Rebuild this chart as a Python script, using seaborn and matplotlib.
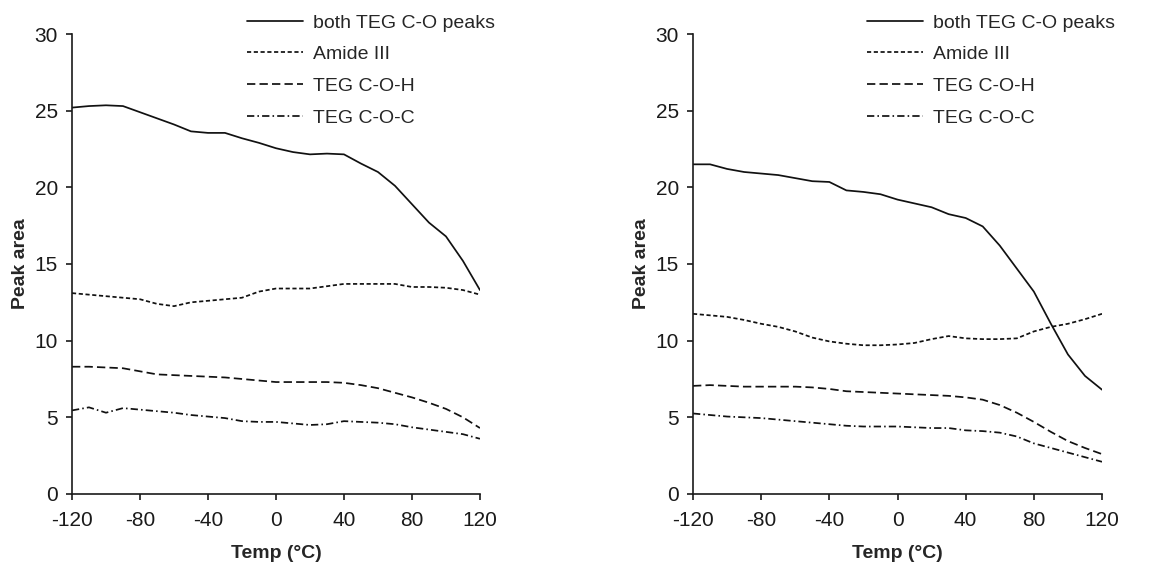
import pandas as pd
import matplotlib
matplotlib.use("Agg")
import matplotlib.pyplot as plt
import seaborn as sns

# Temperature grid (°C)
temps = list(range(-120, 121, 10))

series_names = ["both TEG C-O peaks", "Amide III", "TEG C-O-H", "TEG C-O-C"]

# left panel
left_both = [25.2, 25.3, 25.35, 25.3, 24.9, 24.5, 24.1, 23.65, 23.55, 23.55, 23.2, 22.9, 22.55,
             22.3, 22.15, 22.2, 22.15, 21.55, 21.0, 20.1, 18.9, 17.7, 16.8, 15.2, 13.3]
left_amide = [13.1, 13.0, 12.9, 12.8, 12.7, 12.4, 12.25, 12.5, 12.6, 12.7, 12.8, 13.2, 13.4,
              13.4, 13.4, 13.55, 13.7, 13.7, 13.7, 13.7, 13.5, 13.5, 13.45, 13.3, 13.0]
left_coh = [8.3, 8.3, 8.25, 8.2, 8.0, 7.8, 7.75, 7.7, 7.65, 7.6, 7.5, 7.4, 7.3,
            7.3, 7.3, 7.3, 7.25, 7.1, 6.9, 6.6, 6.3, 5.95, 5.55, 5.0, 4.3]
left_coc = [5.45, 5.65, 5.3, 5.6, 5.5, 5.4, 5.3, 5.15, 5.05, 4.95, 4.75, 4.7, 4.7,
            4.6, 4.5, 4.55, 4.75, 4.7, 4.65, 4.55, 4.35, 4.2, 4.05, 3.9, 3.6]

# right panel
right_both = [21.5, 21.5, 21.2, 21.0, 20.9, 20.8, 20.6, 20.4, 20.35, 19.8, 19.7, 19.55, 19.2,
              18.95, 18.7, 18.25, 18.0, 17.45, 16.2, 14.7, 13.2, 11.1, 9.1, 7.7, 6.8]
right_amide = [11.75, 11.65, 11.55, 11.35, 11.1, 10.9, 10.6, 10.2, 9.95, 9.8, 9.7, 9.7, 9.75,
               9.85, 10.1, 10.3, 10.15, 10.1, 10.1, 10.15, 10.6, 10.9, 11.1, 11.4, 11.75]
right_coh = [7.05, 7.1, 7.05, 7.0, 7.0, 7.0, 7.0, 6.95, 6.85, 6.7, 6.65, 6.6, 6.55,
             6.5, 6.45, 6.4, 6.3, 6.15, 5.8, 5.3, 4.7, 4.05, 3.45, 3.0, 2.6]
right_coc = [5.25, 5.15, 5.05, 5.0, 4.95, 4.85, 4.75, 4.65, 4.55, 4.45, 4.4, 4.4, 4.4,
             4.35, 4.3, 4.3, 4.15, 4.1, 4.0, 3.75, 3.3, 3.0, 2.7, 2.4, 2.1]

x_ticks = [-120, -80, -40, 0, 40, 80, 120]
y_ticks = [0, 5, 10, 15, 20, 25, 30]


def long_frame(cols):
    rows = []
    for name, vals in zip(series_names, cols):
        for t, v in zip(temps, vals):
            rows.append({"Temp": t, "Peak area": v, "series": name})
    return pd.DataFrame(rows)


sns.set_style("ticks")
plt.rcParams["font.family"] = ["Liberation Sans", "DejaVu Sans"]
plt.rcParams["axes.unicode_minus"] = False

dash_styles = {
    "both TEG C-O peaks": "",
    "Amide III": (2.4, 1.5),
    "TEG C-O-H": (4.8, 2.4),
    "TEG C-O-C": (4.2, 1.8, 0.9, 1.8),
}

fig = plt.figure(figsize=(11.61, 5.63), dpi=100)
ax_l = fig.add_axes([0.062, 0.1226, 0.3514, 0.817])
ax_r = fig.add_axes([0.5969, 0.1226, 0.3523, 0.817])

panels = [
    (ax_l, [left_both, left_amide, left_coh, left_coc], 247),
    (ax_r, [right_both, right_amide, right_coh, right_coc], 867),
]

for ax, cols, leg_x in panels:
    df = long_frame(cols)
    sns.lineplot(data=df, x="Temp", y="Peak area", style="series", style_order=series_names,
                 dashes=dash_styles, color="#111111", linewidth=1.25, ax=ax, legend=True)
    ax.set_xlim(-120, 120)
    ax.set_ylim(0, 30)
    ax.set_xticks(x_ticks)
    ax.set_yticks(y_ticks)
    ax.tick_params(direction="out", length=4, width=1.2, labelsize=15, colors="#1a1a1a")
    ax.tick_params(axis="x", pad=8)
    ax.tick_params(axis="y", pad=6)
    for s in ["top", "right"]:
        ax.spines[s].set_visible(False)
    for s in ["left", "bottom"]:
        ax.spines[s].set_linewidth(1.2)
        ax.spines[s].set_color("#1a1a1a")
    ax.set_xlabel("Temp (°C)", fontsize=14, fontweight="bold", labelpad=11)
    ax.set_ylabel("Peak area", fontsize=14, fontweight="bold", labelpad=4)
    handles, labels = ax.get_legend_handles_labels()
    ax.legend(handles, labels, loc="upper left", bbox_to_anchor=(leg_x / 1161, 0.975),
              bbox_transform=fig.transFigure, frameon=False, fontsize=14,
              handlelength=2.9, handletextpad=0.5, labelspacing=0.72, borderpad=0,
              borderaxespad=0)

fig.savefig("out.png", dpi=100)
